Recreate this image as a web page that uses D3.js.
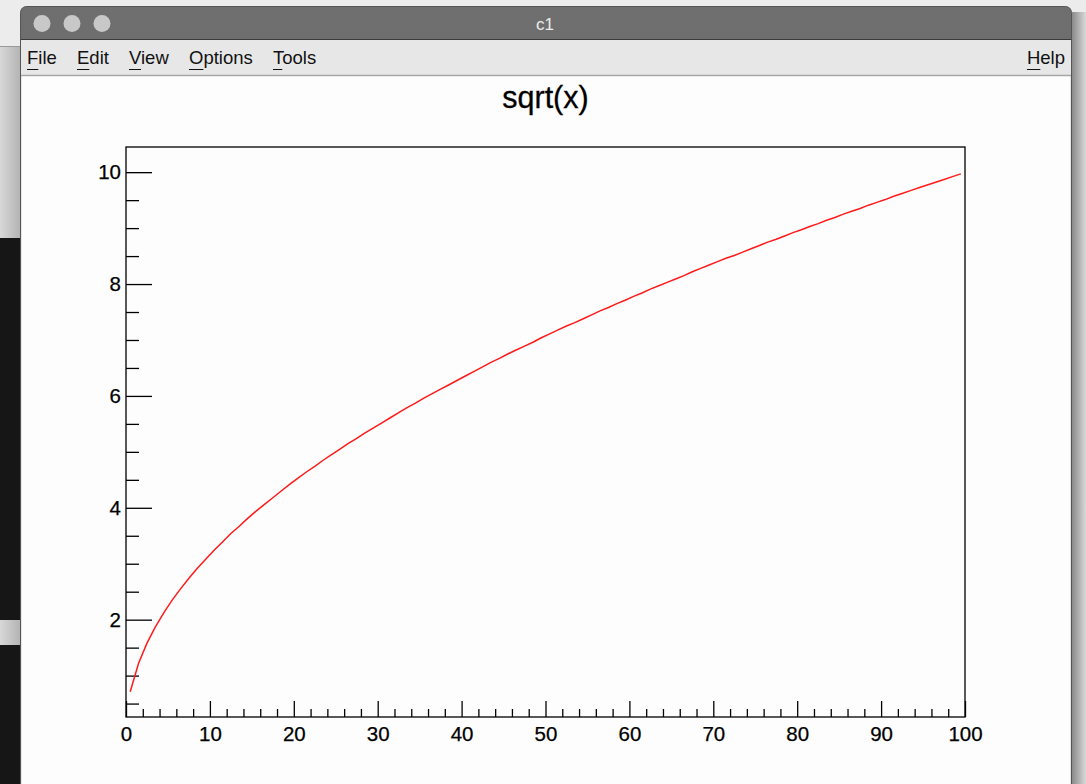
<!DOCTYPE html>
<html>
<head>
  <meta charset="utf-8"/>
  <title>c1</title>
  <style type="text/css">
    body {
      margin:0;
      padding:0;
      background-color:#ececec;
      overflow:hidden;
    }
    text {
      font-family: Helvetica, "Liberation Sans", Arial, sans-serif;
    }
  </style>
  <script src="https://cdn.jsdelivr.net/npm/d3@7"></script>
</head>
<body>
<script type="text/javascript">

  var w = 1086, h = 784;

  // DATA
  var chartTitle = "sqrt(x)";
  var windowTitle = "c1";
  var menuItems = ["File", "Edit", "View", "Options", "Tools"];
  var xDomain = [0, 100];
  var yDomain = [0.26, 10.45];
  var xMajorTicks = [0, 10, 20, 30, 40, 50, 60, 70, 80, 90, 100];
  var yMajorTicks = [2, 4, 6, 8, 10];
  // sample points of the curve, one per unit
  var xValues = d3.range(0.5, 100, 1);
  var yValues = [
    0.71, 1.22, 1.58, 1.87, 2.12, 2.35, 2.55, 2.74, 2.92, 3.08,
    3.24, 3.39, 3.54, 3.67, 3.81, 3.94, 4.06, 4.18, 4.30, 4.42,
    4.53, 4.64, 4.74, 4.85, 4.95, 5.05, 5.15, 5.24, 5.34, 5.43,
    5.52, 5.61, 5.70, 5.79, 5.87, 5.96, 6.04, 6.12, 6.20, 6.28,
    6.36, 6.44, 6.52, 6.60, 6.67, 6.75, 6.82, 6.89, 6.96, 7.04,
    7.11, 7.18, 7.25, 7.31, 7.38, 7.45, 7.52, 7.58, 7.65, 7.71,
    7.78, 7.84, 7.91, 7.97, 8.03, 8.09, 8.15, 8.22, 8.28, 8.34,
    8.40, 8.46, 8.51, 8.57, 8.63, 8.69, 8.75, 8.80, 8.86, 8.92,
    8.97, 9.03, 9.08, 9.14, 9.19, 9.25, 9.30, 9.35, 9.41, 9.46,
    9.51, 9.57, 9.62, 9.67, 9.72, 9.77, 9.82, 9.87, 9.92, 9.97
  ];

  var svg = d3.select("body").append("svg")
              .attr("width", w)
              .attr("height", h);

  var defs = svg.append("defs");

  var titleGrad = defs.append("linearGradient").attr("id", "title-grad")
                      .attr("x1", 0).attr("y1", 0).attr("x2", 0).attr("y2", 1);
  titleGrad.append("stop").attr("offset", "0%").style("stop-color", "#6f6f6f");
  titleGrad.append("stop").attr("offset", "100%").style("stop-color", "#595959");

  var stripGrad = defs.append("linearGradient").attr("id", "strip-grad")
                      .attr("x1", 0).attr("y1", 0).attr("x2", 1).attr("y2", 0);
  stripGrad.append("stop").attr("offset", "0%").style("stop-color", "#d8d8d8");
  stripGrad.append("stop").attr("offset", "100%").style("stop-color", "#b2b2b2");

  var shadowGrad = defs.append("linearGradient").attr("id", "shadow-grad")
                       .attr("x1", 0).attr("y1", 0).attr("x2", 1).attr("y2", 0);
  shadowGrad.append("stop").attr("offset", "0%").style("stop-color", "#8a8a8a");
  shadowGrad.append("stop").attr("offset", "100%").style("stop-color", "#dadada");

  // desktop behind the window
  var desk = svg.append("g").attr("id", "desk");
  desk.append("rect").attr("x", 0).attr("y", 0).attr("width", w).attr("height", h).style("fill", "#ececec");
  desk.append("line").attr("x1", 0).attr("x2", 21).attr("y1", 46.5).attr("y2", 46.5)
      .style("stroke", "#9a9a9a").style("stroke-width", 1);
  desk.append("rect").attr("x", 0).attr("y", 47).attr("width", 21).attr("height", 191).style("fill", "url(#strip-grad)");
  desk.append("rect").attr("x", 0).attr("y", 238).attr("width", 21).attr("height", 382).style("fill", "#161616");
  desk.append("rect").attr("x", 0).attr("y", 620).attr("width", 21).attr("height", 25).style("fill", "url(#strip-grad)");
  desk.append("rect").attr("x", 0).attr("y", 645).attr("width", 21).attr("height", 139).style("fill", "#161616");
  desk.append("rect").attr("x", 1072).attr("y", 12).attr("width", 14).attr("height", h).style("fill", "url(#shadow-grad)");

  // window frame
  var win = svg.append("g").attr("id", "window");
  win.append("rect").attr("x", 20.5).attr("y", 6.5).attr("width", 1051).attr("height", 800).attr("rx", 6)
     .style("fill", "url(#title-grad)").style("stroke", "#555").style("stroke-width", 1);
  win.append("rect").attr("x", 21).attr("y", 39.5).attr("width", 1050).attr("height", 760).style("fill", "#e7e7e7");
  win.append("line").attr("x1", 21).attr("x2", 1071).attr("y1", 39.5).attr("y2", 39.5)
     .style("stroke", "#3a3a3a").style("stroke-width", 1);

  win.selectAll("circle.light").data([42, 72, 102]).enter().append("circle")
     .attr("class", "light")
     .attr("cx", function(d) { return d; })
     .attr("cy", 23.5)
     .attr("r", 8.5)
     .style("fill", "#c8c8c8");

  win.append("text").attr("x", 545).attr("y", 30).attr("text-anchor", "middle")
     .style("font-size", "17px").style("fill", "#ececec").text(windowTitle);

  // menu bar
  var menuX = [27, 77, 129, 189, 273];
  var menu = win.append("g").attr("id", "menu");
  menuItems.forEach(function(m, i) {
    var t = menu.append("text").attr("x", menuX[i]).attr("y", 64)
                .style("font-size", "18.5px").style("fill", "#111").text(m);
    var first = t.node().getSubStringLength(0, 1);
    menu.append("line").attr("x1", menuX[i]).attr("x2", menuX[i] + first)
        .attr("y1", 69.5).attr("y2", 69.5).style("stroke", "#111").style("stroke-width", 1);
  });
  var help = menu.append("text").attr("x", 1065).attr("y", 64).attr("text-anchor", "end")
                 .style("font-size", "18.5px").style("fill", "#111").text("Help");
  var helpW = help.node().getComputedTextLength();
  var hW = help.node().getSubStringLength(0, 1);
  menu.append("line").attr("x1", 1065 - helpW).attr("x2", 1065 - helpW + hW)
      .attr("y1", 69.5).attr("y2", 69.5).style("stroke", "#111").style("stroke-width", 1);

  win.append("line").attr("x1", 21).attr("x2", 1071).attr("y1", 75.5).attr("y2", 75.5)
     .style("stroke", "#a6a6a6").style("stroke-width", 1.5);

  // canvas
  win.append("rect").attr("x", 22).attr("y", 76.5).attr("width", 1048).attr("height", 720).style("fill", "#fdfdfd");

  // PLOT
  var plotLeft = 126, plotRight = 965, plotTop = 147, plotBottom = 717;
  var x = d3.scaleLinear().domain(xDomain).range([plotLeft, plotRight]);
  var y = d3.scaleLinear().domain(yDomain).range([plotBottom, plotTop]);

  var plot = svg.append("g").attr("id", "plot");

  var xMinor = d3.range(0, 101, 2).filter(function(v) { return v % 10 !== 0; });
  var yMinor = d3.range(0.5, 10.45, 0.5).filter(function(v) { return v % 2 !== 0; });

  var xAxis = plot.append("g").attr("transform", "translate(0," + plotBottom + ")")
                  .call(d3.axisBottom(x).tickValues(xMajorTicks).tickSize(-16).tickPadding(9).tickFormat(d3.format("d")));
  var xAxisMinor = plot.append("g").attr("transform", "translate(0," + plotBottom + ")")
                       .call(d3.axisBottom(x).tickValues(xMinor).tickSize(-8).tickFormat(""));
  var yAxis = plot.append("g").attr("transform", "translate(" + plotLeft + ",0)")
                  .call(d3.axisLeft(y).tickValues(yMajorTicks).tickSize(-26).tickPadding(5).tickFormat(d3.format("d")));
  var yAxisMinor = plot.append("g").attr("transform", "translate(" + plotLeft + ",0)")
                       .call(d3.axisLeft(y).tickValues(yMinor).tickSize(-13).tickFormat(""));

  plot.selectAll(".domain").remove();
  plot.selectAll(".tick line").style("stroke", "#000").style("stroke-width", 1.3);
  plot.selectAll(".tick text")
      .style("font-family", "Helvetica, 'Liberation Sans', Arial, sans-serif")
      .style("font-size", "20.5px").style("fill", "#000")
      .style("stroke", "#000").style("stroke-width", 0.25);

  plot.append("rect").attr("x", plotLeft).attr("y", plotTop)
      .attr("width", plotRight - plotLeft).attr("height", plotBottom - plotTop)
      .style("fill", "none").style("stroke", "#000").style("stroke-width", 1.3);

  var line = d3.line()
               .x(function(d, i) { return x(xValues[i]); })
               .y(function(d) { return y(d); });

  plot.append("path").datum(yValues)
      .attr("d", line)
      .style("fill", "none")
      .style("stroke", "#ff1a1a")
      .style("stroke-width", 1.5);

  plot.append("text").attr("x", (plotLeft + plotRight) / 2).attr("y", 108)
      .attr("text-anchor", "middle")
      .style("font-size", "30.5px").style("fill", "#000")
      .style("stroke", "#000").style("stroke-width", 0.3)
      .text(chartTitle);

</script>
</body>
</html>
